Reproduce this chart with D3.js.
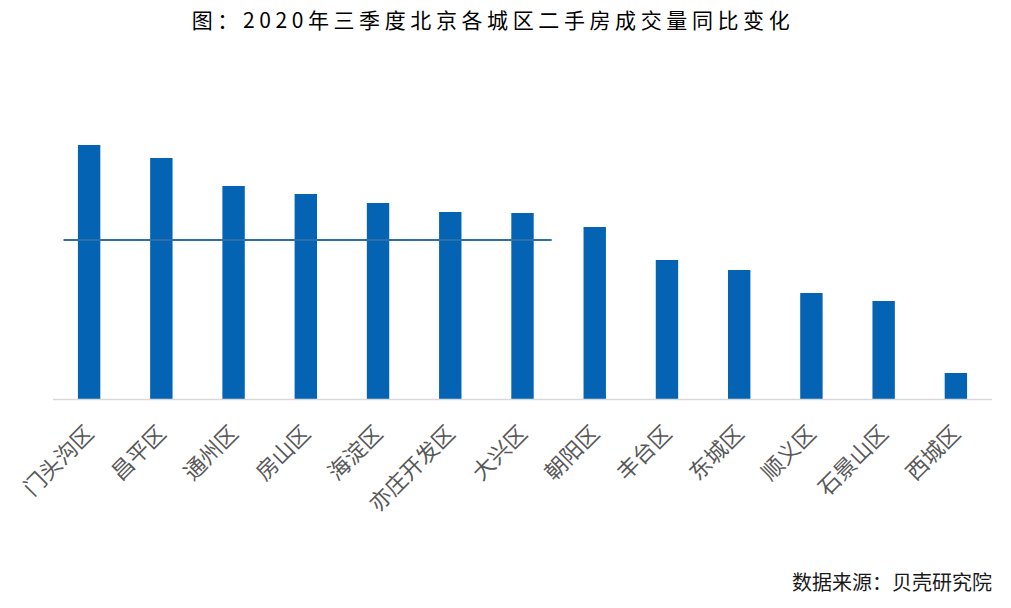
<!DOCTYPE html>
<html><head><meta charset="utf-8">
<script src="https://cdn.jsdelivr.net/npm/d3@7"></script>
<style>body{margin:0;background:#fff}svg{display:block}</style>
</head><body>
<svg id="c" width="1011" height="608"></svg>
<script>
const categories = ["门头沟区","昌平区","通州区","房山区","海淀区","亦庄开发区","大兴区","朝阳区","丰台区","东城区","顺义区","石景山区","西城区"];
const values = [254, 241, 213, 205, 196, 187, 186, 172, 139, 129, 106, 98, 26];
const averageValue = 159;
const averageSpan = ["门头沟区","大兴区"];
const titleText = "图：2020年三季度北京各城区二手房成交量同比变化";
const sourceText = "数据来源：贝壳研究院";

const svg = d3.select("#c");
const font = "'Noto Sans CJK SC','Noto Sans',sans-serif";

const x = d3.scaleBand().domain(categories).range([53, 992]).paddingInner(0.69).paddingOuter(0.345);
const y = d3.scaleLinear().domain([0, 300]).range([399, 99]);

svg.append("text").attr("x", 493).attr("y", 28).attr("text-anchor","middle")
  .style("font-family", font).style("font-size","21px").style("letter-spacing","4.6px").attr("fill","#000")
  .text(titleText);

svg.selectAll("rect.bar").data(values).join("rect").attr("class","bar")
  .attr("x",(d,i)=>x(categories[i])).attr("width",x.bandwidth())
  .attr("y",d=>y(d)).attr("height",d=>y(0)-y(d))
  .attr("fill","#0563b3");

// baseline axis
const ax = svg.append("g").attr("transform",`translate(0,${y(0)})`)
  .call(d3.axisBottom(x).tickSize(0).tickFormat(""));
ax.select(".domain").attr("stroke","#d9d9d9").attr("stroke-width",1.5)
  .attr("d","M53,0.5H992");

svg.selectAll("text.lab").data(categories).join("text").attr("class","lab")
  .attr("transform",d=>`translate(${x(d)+x.bandwidth()/2+6},${y(0)+36}) rotate(-45)`)
  .attr("text-anchor","end")
  .style("font-family",font).style("font-size","22px").attr("fill","#595959")
  .text(d=>d);

// average line
const x0 = x(averageSpan[0]) - x.step()*0.2;
const x1 = x(averageSpan[1]) + x.bandwidth() + 18;
svg.append("line").attr("x1",x0).attr("x2",x1).attr("y1",y(averageValue)).attr("y2",y(averageValue))
  .attr("stroke","#2e6fa8").attr("stroke-width",2);

svg.append("text").attr("x",992).attr("y",590).attr("text-anchor","end")
  .style("font-family",font).style("font-size","20px").attr("fill","#1a1a1a")
  .text(sourceText);
</script>
</body></html>
